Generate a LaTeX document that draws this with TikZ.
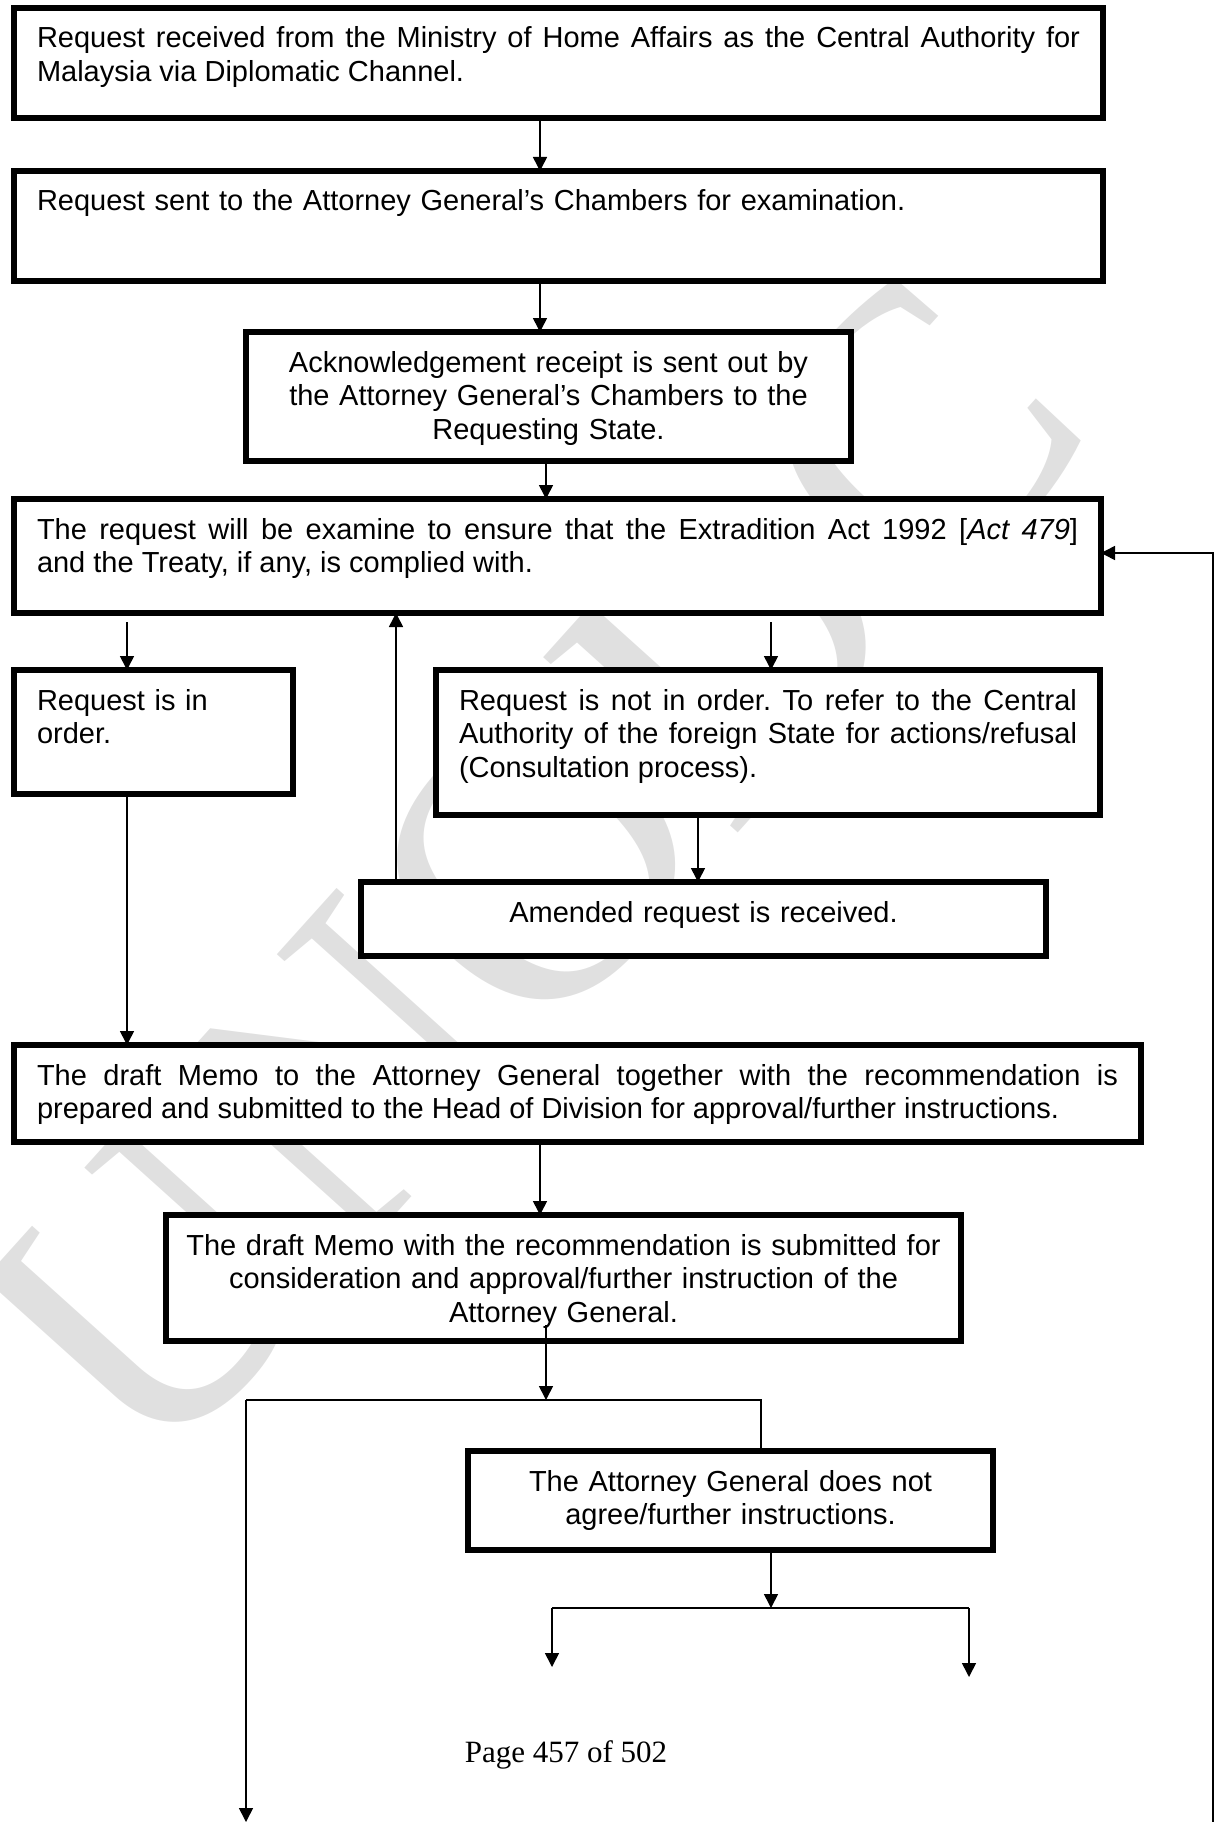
\documentclass[tikz,border=0pt]{standalone}
\usepackage{fontspec}
\setmainfont{Liberation Sans}
\newfontfamily\pagefont{Liberation Serif}
\usetikzlibrary{arrows.meta}
\frenchspacing
\hyphenpenalty=10000
\exhyphenpenalty=10000

\begin{document}
\begin{tikzpicture}[
            x = 1pt, y = -1pt, % one unit = one pixel of the page
            > = {Triangle[width=14pt, length=14pt]}, % arrow head style
            line width = 1.6pt, % connectors
            font = \fontsize{29}{33.5}\selectfont
        ]

        \tikzstyle{box}=[
            draw = black,
            line width = 5.5pt,
            fill = white,
            anchor = north west,
            outer sep = 0pt,
            inner xsep = 23pt,
            inner ysep = 0pt,
            text height = 40pt, % first baseline below the top edge
            align = justify
        ]
        \tikzstyle{watermark}=[
            text = black!12,
            rotate = 48,
            font = \pagefont\fontsize{400}{400}\selectfont
        ]

        \useasboundingbox (0,0) rectangle (1219,1822);

        \node[watermark] (wm) at (530, 870) {UNODC};

        \node[box, text width = 1043pt, text depth = 70pt]              (recv)     at (  14 ,    8 ) {Request received from the Ministry of Home Affairs as the Central Authority for\linebreak Malaysia via Diplomatic Channel.};
        \node[box, text width = 1043pt, text depth = 70pt, align=left]  (sent)     at (  14 ,  171 ) {Request sent to the Attorney General’s Chambers for examination.};
        \node[box, text width = 559pt,  text depth = 89pt, align=center](ack)      at ( 246 ,  332 ) {Acknowledgement receipt is sent out by\\ the Attorney General’s Chambers to the\\ Requesting State.};
        \node[box, text width = 1041pt, text depth = 74pt]              (exam)     at (  14 ,  499 ) {The request will be examine to ensure that the Extradition Act 1992 [\textit{Act 479}]\linebreak and the Treaty, if any, is complied with.};
        \node[box, text width = 233pt,  text depth = 84pt, align=left]  (inorder)  at (  14 ,  670 ) {Request is in\\ order.};
        \node[box, text width = 618pt,  text depth = 105pt]             (notorder) at ( 436 ,  670 ) {Request is not in order. To refer to the Central\linebreak Authority of the foreign State for actions/refusal\linebreak (Consultation process).};
        \node[box, text width = 639pt,  text depth = 34pt, align=center](amend)    at ( 361 ,  882 ) {Amended request is received.};
        \node[box, text width = 1081pt, text depth = 57pt]              (memo)     at (  14 , 1045 ) {The draft Memo to the Attorney General together with the recommendation is\linebreak prepared and submitted to the Head of Division for approval/further instructions.};
        \node[box, text width = 769pt,  text depth = 86pt, align=center,
              inner xsep = 13pt]                                        (submit)   at ( 166 , 1215 ) {The draft Memo with the recommendation is submitted for\\ consideration and approval/further instruction of the\\ Attorney General.};
        \node[box, text width = 479pt,  text depth = 59pt, align=center](agnot)    at ( 468 , 1451 ) {The Attorney General does not\\ agree/further instructions.};

        \node[font = \pagefont\fontsize{31}{31}\selectfont, anchor = base] (page) at ( 566 , 1762 ) {Page 457 of 502};

        % free ends and junctions
        \coordinate (t1)  at ( 127 ,  622 );
        \coordinate (t2)  at ( 771 ,  622 );
        \coordinate (s0)  at ( 546 , 1325 );
        \coordinate (jl)  at ( 246 , 1400 );
        \coordinate (jr)  at ( 761 , 1400 );
        \coordinate (jle) at ( 246 , 1822 );
        \coordinate (kl)  at ( 552 , 1608 );
        \coordinate (kr)  at ( 969 , 1608 );
        \coordinate (kle) at ( 552 , 1667 );
        \coordinate (kre) at ( 969 , 1677 );
        \coordinate (lb)  at (1213 , 1822 );
        \coordinate (lt)  at (1213 ,  553 );

        \path[->] ([xshift=-18.5pt]recv.south)   edge ([xshift=-18.5pt]sent.north);
        \path[->] ([xshift=-18.5pt]sent.south)   edge ([xshift=-8.5pt]ack.north);
        \path[->] ([xshift=-2.5pt]ack.south)     edge ([xshift=-11.5pt]exam.north);
        \path[->] (t1) edge (t1 |- inorder.north);
        \path[->] (t2) edge (t2 |- notorder.north);
        \path[->] ([xshift=-70pt]notorder.south) edge ([xshift=-70pt]notorder.south |- amend.north);
        \path[->] ([xshift=-307.5pt]amend.north) edge ([xshift=-307.5pt]amend.north |- exam.south);
        \path[->] ([xshift=-26.5pt]inorder.south) edge ([xshift=-26.5pt]inorder.south |- memo.north);
        \path[->] ([xshift=-37.5pt]memo.south)   edge ([xshift=-37.5pt]memo.south |- submit.north);

        % split below the Attorney General
        \draw[->] (s0) -- (s0 |- jl);
        \draw (jle |- jl) -- (jr) -- (jr |- agnot.north);
        \draw[->] (jl) -- (jle);

        \draw[->] ([xshift=40.5pt]agnot.south) -- ([xshift=40.5pt]agnot.south |- kl);
        \draw (kl) -- (kr);
        \draw[->] (kl) -- (kle);
        \draw[->] (kr) -- (kre);

        % back to the examination
        \draw[->] (lb) -- (lt) -- (lt -| exam.east);

    \end{tikzpicture}
\end{document}
